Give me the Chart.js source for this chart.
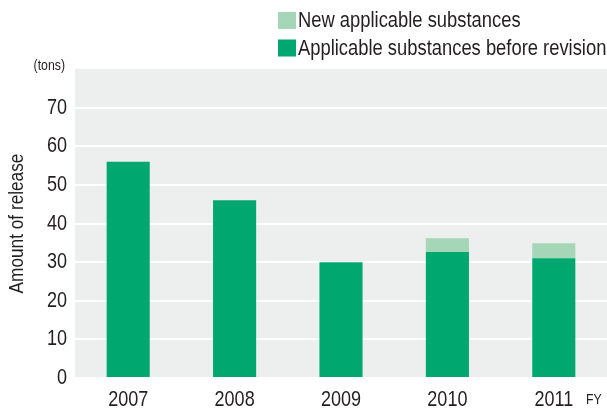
<!DOCTYPE html>
<html>
<head>
<meta charset="utf-8">
<script src="https://cdn.jsdelivr.net/npm/chart.js@4"></script>
<style>
    html, body { margin: 0; padding: 0; background: #fff; }
    #wrap { width: 607px; height: 410px; }
</style>
</head>
<body>
<div id="wrap"><canvas id="release-chart" width="607" height="410"></canvas></div>
<script>
const years = ['2007', '2008', '2009', '2010', '2011'];
const beforeRevision = [56, 46, 30, 32.6, 31.0];
const newSubstances = [0, 0, 0, 3.6, 3.9];
const yTicks = [0, 10, 20, 30, 40, 50, 60, 70];

const FONT = '"Liberation Sans", Arial, sans-serif';
const TEXT = '#231f20';
const DARK = '#00a870';
const LIGHT = '#a6d6b8';
const NARROW = 0.82; // squeeze text horizontally for a condensed face

function drawText(ctx, text, x, y, size, align, rotate, sx) {
    ctx.save();
    ctx.translate(x, y);
    if (rotate) ctx.rotate(rotate);
    ctx.scale(sx || NARROW, 1);
    ctx.font = size + 'px ' + FONT;
    ctx.fillStyle = TEXT;
    ctx.textAlign = align;
    ctx.textBaseline = 'middle';
    ctx.fillText(text, 0, 0);
    ctx.restore();
}

// grey plot panel behind the bars
const panelBg = {
    id: 'panelBg',
    beforeDraw(chart) {
        const { ctx, chartArea: a } = chart;
        ctx.save();
        ctx.fillStyle = '#edeeee';
        ctx.fillRect(a.left, a.top, a.right - a.left, a.bottom - a.top);
        ctx.restore();
    }
};

// axis labels, units and the stacked legend, drawn in a narrow face
const labels = {
    id: 'labels',
    afterDraw(chart) {
        const { ctx, chartArea: a, scales } = chart;

        scales.y.ticks.forEach(t => {
            drawText(ctx, String(t.value), a.left - 8, scales.y.getPixelForValue(t.value), 22, 'right');
        });
        chart.data.labels.forEach((lab, i) => {
            drawText(ctx, lab, scales.x.getPixelForTick(i), 400, 22, 'center');
        });

        drawText(ctx, 'Amount of release', 17, (a.top + a.bottom) / 2, 21, 'center', -Math.PI / 2);
        drawText(ctx, '(tons)', a.left - 10, a.top - 3, 15, 'right');
        drawText(ctx, 'FY', 586, 400, 15, 'left');

        const items = chart.data.datasets.slice().reverse();
        items.forEach((ds, i) => {
            const y = 12 + i * 27.5;
            ctx.fillStyle = ds.backgroundColor;
            ctx.fillRect(278, y, 18, 17);
            drawText(ctx, ds.label, 298, y + 9, 22, 'left', 0, 0.835);
        });
    }
};

const ctx = document.getElementById('release-chart').getContext('2d');

const releaseChart = new Chart(ctx, {
    type: 'bar',
    data: {
        labels: years,
        datasets: [
            {
                label: 'Applicable substances before revision',
                data: beforeRevision,
                backgroundColor: DARK,
                categoryPercentage: 1,
                barPercentage: 0.405,
            },
            {
                label: 'New applicable substances',
                data: newSubstances,
                backgroundColor: LIGHT,
                categoryPercentage: 1,
                barPercentage: 0.405,
            }
        ]
    },
    options: {
        responsive: false,
        animation: false,
        layout: { padding: { top: 69, right: 0, left: 0, bottom: 0 } },
        plugins: {
            legend: { display: false },
            tooltip: { enabled: false },
        },
        scales: {
            x: {
                stacked: true,
                grid: { display: false, drawTicks: false },
                border: { display: false },
                ticks: { display: false },
                afterFit(scale) { scale.height = 32; },
            },
            y: {
                stacked: true,
                min: 0,
                max: 80,
                afterBuildTicks(scale) {
                    scale.ticks = yTicks.map(v => ({ value: v }));
                },
                grid: { color: '#ffffff', lineWidth: 2, drawTicks: false },
                border: { display: false },
                ticks: { display: false },
                afterFit(scale) { scale.width = 75; },
            }
        }
    },
    plugins: [panelBg, labels]
});
</script>
</body>
</html>
